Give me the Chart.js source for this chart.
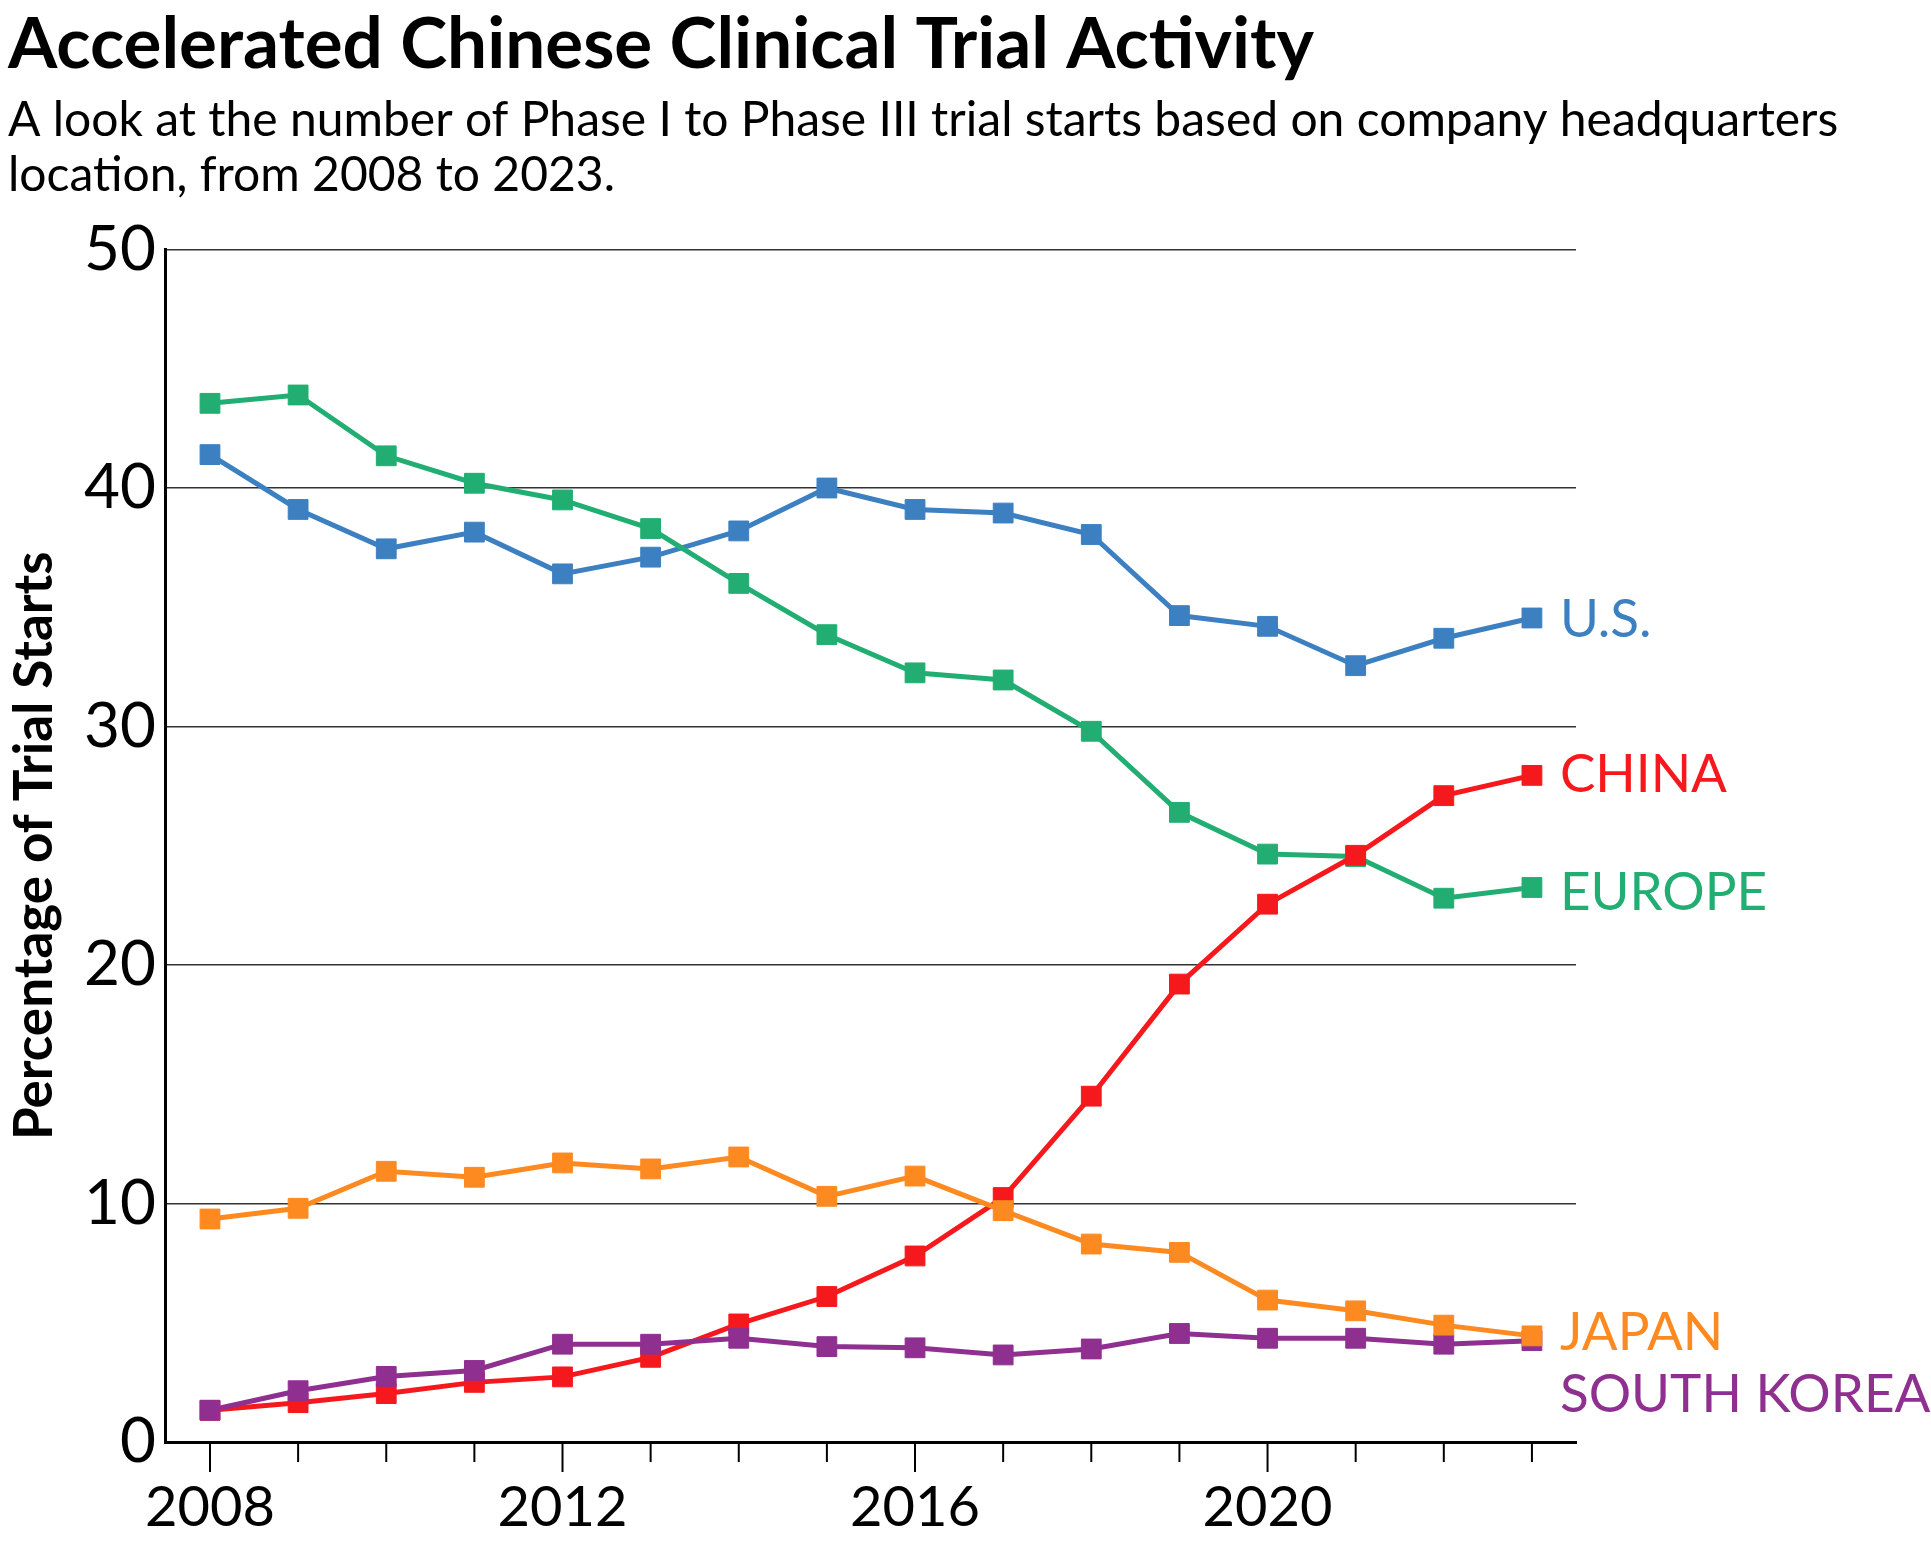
<!DOCTYPE html>
<html>
<head>
<meta charset="utf-8">
<title>Accelerated Chinese Clinical Trial Activity</title>
<script src="https://cdn.jsdelivr.net/npm/chart.js@4.4.1/dist/chart.umd.min.js"></script>
<style>
  html, body { margin: 0; padding: 0; background: #fff; }
  #wrap { width: 1931px; height: 1550px; }
</style>
</head>
<body>
<div id="wrap"><canvas id="chart"></canvas></div>
<script>
const FONT = 'Lato, "Noto Sans", sans-serif';

const years = ['2008', '2009', '2010', '2011', '2012', '2013', '2014', '2015',
               '2016', '2017', '2018', '2019', '2020', '2021', '2022', '2023'];
const shownYears = ['2008', '2012', '2016', '2020'];
const yTicks = [0, 10, 20, 30, 40, 50];

const usValues     = [41.4, 39.1, 37.45, 38.15, 36.4, 37.1, 38.2, 40.0, 39.1, 38.95, 38.05, 34.65, 34.2, 32.55, 33.7, 34.55];
const europeValues = [43.55, 43.9, 41.35, 40.2, 39.5, 38.3, 36.0, 33.85, 32.25, 31.95, 29.8, 26.4, 24.65, 24.55, 22.8, 23.25];
const chinaValues  = [1.33, 1.65, 2.03, 2.5, 2.73, 3.55, 4.95, 6.1, 7.8, 10.25, 14.5, 19.2, 22.55, 24.6, 27.1, 27.95];
const japanValues  = [9.35, 9.8, 11.35, 11.1, 11.7, 11.45, 11.95, 10.3, 11.15, 9.7, 8.3, 7.95, 5.95, 5.5, 4.9, 4.45];
const koreaValues  = [1.33, 2.15, 2.75, 3.0, 4.1, 4.1, 4.35, 4.0, 3.95, 3.65, 3.9, 4.55, 4.35, 4.35, 4.1, 4.25];

function series(label, data, color, labelShift) {
  return {
    label,
    data,
    borderColor: color,
    backgroundColor: color,
    borderWidth: 5,
    pointStyle: 'rect',
    pointRadius: 14,
    pointBorderWidth: 1,
    pointBorderColor: color,
    tension: 0,
    labelShift
  };
}

// little tick marks under the x axis: longer ones at the labelled years
const tickMarks = {
  id: 'tickMarks',
  afterDraw(chart) {
    const { ctx, chartArea } = chart;
    const x = chart.scales.x;
    ctx.save();
    ctx.strokeStyle = '#000';
    ctx.lineWidth = 2;
    years.forEach((yr, i) => {
      const px = x.getPixelForTick(i);
      const len = shownYears.includes(yr) ? 30 : 20;
      ctx.beginPath();
      ctx.moveTo(px, chartArea.bottom);
      ctx.lineTo(px, chartArea.bottom + len);
      ctx.stroke();
    });
    ctx.restore();
  }
};

// country names next to the last point of each line
const endLabels = {
  id: 'endLabels',
  afterDatasetsDraw(chart) {
    const { ctx } = chart;
    ctx.save();
    ctx.font = '53px ' + FONT;
    ctx.textBaseline = 'middle';
    ctx.textAlign = 'left';
    chart.data.datasets.forEach((ds, i) => {
      const meta = chart.getDatasetMeta(i);
      const pt = meta.data[meta.data.length - 1];
      ctx.fillStyle = ds.borderColor;
      ctx.fillText(ds.label, pt.x + 28, pt.y + ds.labelShift);
    });
    ctx.restore();
  }
};

const ctx = document.getElementById('chart').getContext('2d');
new Chart(ctx, {
  type: 'line',
  data: {
    labels: years,
    datasets: [
      series('JAPAN', japanValues, '#fd8a21', -3),
      series('SOUTH KOREA', koreaValues, '#8f3090', 54),
      series('CHINA', chinaValues, '#f5191d', 0),
      series('EUROPE', europeValues, '#22ae72', 5),
      series('U.S.', usValues, '#3d80c2', 2)
    ]
  },
  options: {
    responsive: true,
    maintainAspectRatio: false,
    animation: false,
    layout: { padding: { left: 8, right: 0, bottom: 6, top: 0 } },
    plugins: {
      legend: { display: false },
      tooltip: { enabled: false },
      title: {
        display: true,
        text: 'Accelerated Chinese Clinical Trial Activity',
        align: 'start',
        color: '#000',
        font: { family: FONT, size: 71, weight: 'bold', lineHeight: 1.1 },
        padding: { top: 6, bottom: 0 }
      },
      subtitle: {
        display: true,
        text: ['A look at the number of Phase I to Phase III trial starts based on company headquarters',
               'location, from 2008 to 2023.'],
        align: 'start',
        color: '#000',
        font: { family: FONT, size: 48, lineHeight: 1.15 },
        padding: { top: 9, bottom: 46 }
      }
    },
    scales: {
      x: {
        offset: true,
        grid: { display: true, drawOnChartArea: false, drawTicks: true, tickLength: 30, tickColor: 'transparent' },
        border: { display: true, color: '#000', width: 3 },
        ticks: {
          autoSkip: false,
          maxRotation: 0,
          padding: 8,
          color: '#000',
          font: { family: FONT, size: 56, lineHeight: 1.0 },
          callback: (v, i) => shownYears.includes(years[i]) ? years[i] : ''
        }
      },
      y: {
        min: 0,
        max: 50,
        afterBuildTicks: axis => { axis.ticks = yTicks.map(v => ({ value: v })); },
        grid: {
          drawTicks: false,
          color: c => c.tick && c.tick.value === 0 ? 'transparent' : '#333',
          lineWidth: 1.5
        },
        border: { display: true, color: '#000', width: 3 },
        ticks: {
          padding: 10,
          color: '#000',
          font: { family: FONT, size: 62 }
        },
        title: {
          display: true,
          text: 'Percentage of Trial Starts',
          color: '#000',
          font: { family: FONT, size: 53, weight: 'bold', lineHeight: 1.0 },
          padding: { top: 0, bottom: 13 }
        }
      },
      // empty right-hand axis that only keeps room for the country names
      labelRoom: {
        type: 'linear',
        position: 'right',
        grid: { display: false, drawTicks: false },
        border: { display: false },
        ticks: { display: false },
        afterFit: s => { s.width = 355; }
      }
    }
  },
  plugins: [tickMarks, endLabels]
});
</script>
</body>
</html>
